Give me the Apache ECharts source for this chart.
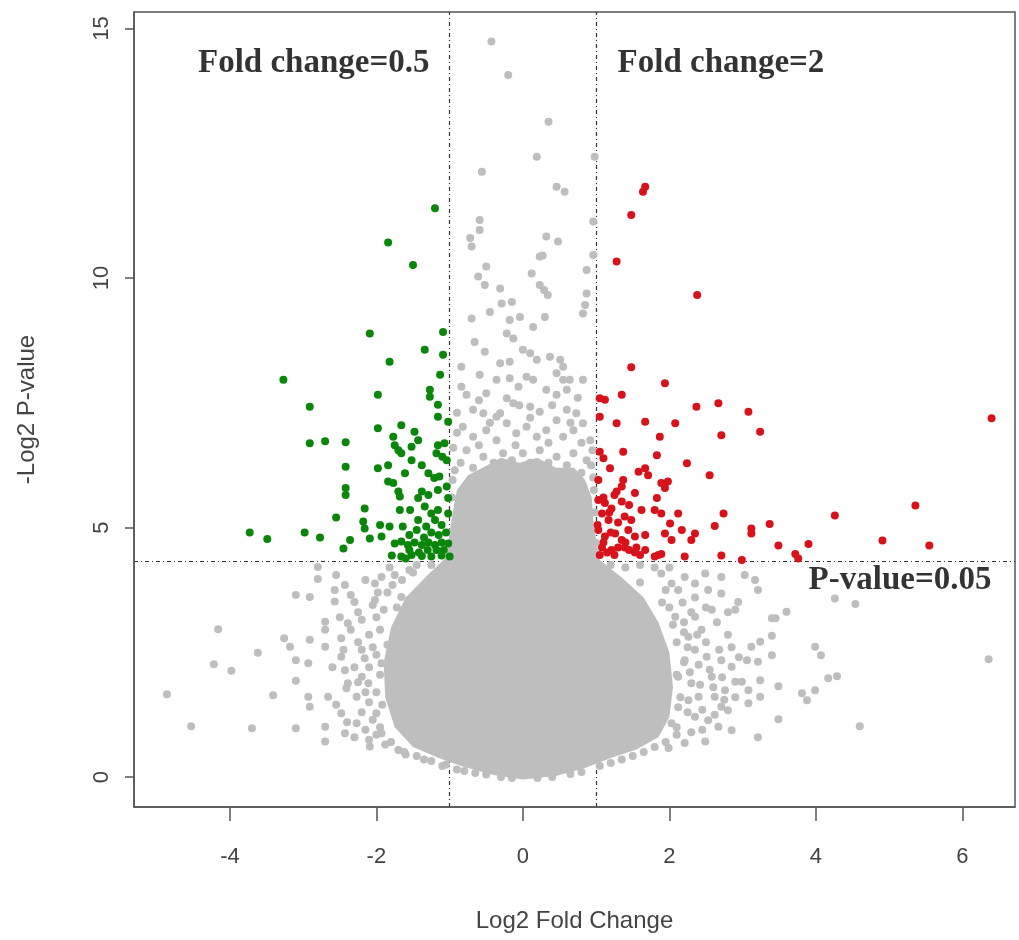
<!DOCTYPE html>
<html>
<head>
<meta charset="utf-8">
<title>Volcano plot</title>
<script src="https://cdn.jsdelivr.net/npm/echarts@6.0.0/dist/echarts.min.js"></script>
<style>
    html, body { margin: 0; padding: 0; background: #fff; }
    #chart { width: 1019px; height: 940px; }
</style>
</head>
<body>
<div id="chart"></div>
<script>
// axis ticks and threshold lines
var xTicks = [-4, -2, 0, 2, 4, 6];
var yTicks = [0, 5, 10, 15];
var foldLines = [-1, 1];
var pLine = 4.32;

// outline of the saturated grey core (log2FC, -log2 p)
var coreOutline = [
    [0.0, -0.05], [0.45, 0.02], [0.85, 0.18], [1.2, 0.38], [1.55, 0.55], [1.85, 0.8], [2.0, 1.2],
    [2.05, 1.8], [2.0, 2.5], [1.85, 3.1], [1.65, 3.6], [1.35, 4.0], [1.05, 4.35], [0.97, 5.0],
    [0.94, 5.6], [0.85, 5.95], [0.7, 6.2], [0.45, 6.2], [0.2, 6.4], [-0.05, 6.3], [-0.3, 6.4],
    [-0.55, 6.2], [-0.75, 6.05], [-0.9, 5.75], [-0.97, 5.2], [-1.05, 4.4], [-1.3, 4.05], [-1.6, 3.6],
    [-1.8, 3.0], [-1.9, 2.3], [-1.88, 1.6], [-1.75, 1.0], [-1.5, 0.6], [-1.15, 0.38], [-0.8, 0.2],
    [-0.4, 0.04]
];

// not significant genes outside the core
var grayPoints = [
    [-4.86, 1.66], [-4.53, 1.02], [-4.16, 2.96], [-4.22, 2.26], [-3.98, 2.13], [-3.62, 2.49], [-3.70, 0.98],
    [-3.41, 1.64], [-3.26, 2.78], [-3.18, 2.61], [-3.10, 3.65], [-2.91, 3.61], [-2.80, 4.21], [-2.80, 3.97],
    [-3.10, 2.34], [-2.93, 2.28], [-2.91, 2.75], [-3.10, 1.93], [-3.10, 0.98], [-2.93, 1.61], [-2.91, 1.41],
    [-2.70, 2.61], [-2.70, 3.11], [-2.70, 2.95], [-2.70, 1.01], [-2.70, 0.71], [-2.66, 1.61], [-2.57, 3.75],
    [-2.57, 3.52], [-2.55, 4.05], [-2.43, 3.85], [-2.48, 2.78], [-2.39, 3.08], [-2.35, 2.95], [-2.48, 2.41],
    [-2.43, 2.14], [-2.39, 1.88], [-2.41, 1.78], [-2.48, 1.28], [-2.43, 0.88], [-2.30, 3.51], [-2.27, 1.61],
    [-2.27, 1.08], [-2.20, 3.15], [-2.16, 2.38], [-2.20, 2.01], [-2.11, 1.88], [-2.09, 0.61], [-2.02, 3.88],
    [-2.02, 3.55], [-2.00, 1.28], [-1.93, 2.28], [-1.93, 0.88], [-1.70, 0.54], [-1.66, 3.61], [-1.93, 4.01],
    [-1.75, 4.05], [-2.05, 2.6], [-2.1, 1.5], [-2.0, 3.2], [-1.95, 1.0], [-1.85, 3.7], [-1.6, 0.45],
    [-1.35, 0.35], [-1.1, 0.22], [-0.8, 0.12], [-1.55, 4.15], [-2.25, 2.7], [-2.15, 0.95], [-1.8, 0.7],
    [-2.6, 2.2], [-2.55, 1.45], [-2.5, 3.2], [-2.45, 2.55], [-2.4, 1.1], [-2.35, 3.65], [-2.3, 2.2],
    [-2.3, 0.8], [-2.25, 1.9], [-2.25, 3.3], [-2.2, 2.55], [-2.2, 1.3], [-2.15, 3.95], [-2.15, 1.7],
    [-2.1, 2.85], [-2.1, 2.2], [-2.1, 0.75], [-2.05, 3.45], [-2.05, 1.15], [-2.0, 2.45], [-2.0, 1.7],
    [-2.0, 0.85], [-1.98, 3.7], [-1.95, 2.05], [-1.95, 2.95], [-1.92, 1.45], [-1.9, 3.35], [-1.88, 0.65],
    [-1.85, 2.65], [-1.82, 4.2], [-1.78, 3.85], [-1.72, 3.4], [-1.65, 3.95], [-1.5, 4.1], [-1.45, 4.25],
    [-1.25, 4.25], [-1.62, 0.5], [-1.45, 0.42], [-1.25, 0.32], [-1.05, 0.25], [-0.9, 0.15], [-0.65, 0.08],
    [-0.5, 0.05],
    [4.26, 3.58], [4.54, 3.47], [6.36, 2.36], [4.60, 1.02], [3.99, 2.61], [4.07, 2.44], [4.17, 1.98],
    [4.29, 2.02], [3.81, 1.68], [3.88, 1.54], [3.99, 1.74], [3.49, 1.82], [3.49, 1.16], [3.21, 0.80],
    [3.60, 3.31], [3.40, 3.18], [3.45, 3.18], [3.40, 2.83], [3.40, 2.44], [3.24, 2.71], [3.12, 2.61],
    [3.21, 2.31], [3.24, 1.94], [3.08, 1.74], [3.24, 1.61], [3.08, 1.48], [3.06, 2.34], [2.90, 3.35],
    [2.94, 3.51], [3.17, 3.95], [3.21, 3.75], [3.03, 4.05], [2.71, 3.68], [2.80, 2.85], [2.71, 2.34],
    [2.85, 2.21], [2.90, 1.91], [2.76, 1.74], [2.99, 1.91], [2.51, 2.41], [2.58, 2.01], [2.62, 1.61],
    [2.71, 1.41], [2.80, 1.34], [2.85, 0.94], [2.49, 0.71], [2.67, 1.01], [2.53, 1.14], [2.35, 1.21],
    [2.21, 0.68], [1.99, 0.58], [2.53, 3.75], [2.58, 3.35], [2.35, 3.88], [2.35, 3.21], [2.44, 2.95],
    [2.26, 2.81], [2.35, 2.55], [2.21, 2.34], [2.30, 1.88], [2.26, 1.54], [2.40, 1.61], [2.12, 3.75],
    [2.21, 4.01], [2.08, 3.21], [2.03, 3.88], [1.89, 4.08], [2.03, 1.08], [2.12, 2.01], [2.71, 4.01],
    [2.49, 4.08], [2.2, 2.9], [2.15, 1.6], [2.1, 1.0], [1.8, 0.6], [1.5, 0.42], [1.2, 0.28], [0.8, 0.1],
    [0.4, 0.0], [-0.3, 0.0], [2.3, 3.3], [1.9, 3.5], [1.6, 3.9], [2.2, 2.3],
    [1.95, 3.75], [2.0, 3.4], [2.05, 3.05], [2.1, 2.7], [2.1, 2.05], [2.12, 1.4], [2.1, 0.85],
    [2.18, 3.5], [2.2, 3.1], [2.25, 2.6], [2.28, 2.1], [2.25, 1.3], [2.3, 0.9], [2.35, 3.6],
    [2.38, 2.85], [2.4, 2.25], [2.42, 1.85], [2.45, 1.35], [2.45, 0.95], [2.5, 3.4], [2.5, 2.7],
    [2.55, 2.15], [2.6, 1.8], [2.62, 1.25], [2.65, 3.1], [2.68, 2.55], [2.72, 2.0], [2.75, 1.55],
    [2.8, 3.3], [2.85, 2.6], [2.9, 1.6], [2.95, 2.4], [2.0, 4.2], [1.8, 4.2], [1.6, 4.25],
    [1.4, 4.2], [1.2, 4.25], [1.95, 0.7], [1.65, 0.5], [1.35, 0.35], [1.05, 0.22], [0.65, 0.06],
    [0.2, -0.02], [-0.15, -0.02],
    [-0.43, 14.74], [-0.20, 14.07], [0.35, 13.13], [0.19, 12.43], [-0.56, 12.13], [0.46, 11.83], [0.57, 11.73],
    [-0.59, 11.16], [-0.59, 10.96], [-0.72, 10.80], [-0.70, 10.63], [0.32, 10.83], [0.48, 10.73], [0.23, 10.43],
    [0.27, 10.45], [-0.50, 10.23], [0.12, 10.09], [0.98, 12.43], [0.96, 11.13], [0.96, 10.46], [0.87, 10.16],
    [-0.61, 10.03], [-0.52, 9.86], [-0.31, 9.79], [0.23, 9.86], [0.29, 9.76], [0.34, 9.66], [-0.29, 9.49],
    [-0.15, 9.52], [-0.45, 9.32], [-0.70, 9.19], [-0.18, 9.16], [-0.04, 9.22], [0.30, 9.22], [0.14, 9.02],
    [0.87, 9.69], [0.85, 9.46], [0.82, 9.29], [-0.66, 8.72], [-0.22, 8.89], [-0.13, 8.79], [-0.52, 8.52],
    [0.0, 8.56], [0.10, 8.49], [0.19, 8.36], [0.37, 8.42], [0.51, 8.36], [0.55, 8.22], [-0.84, 8.22],
    [-0.31, 8.29], [-0.18, 8.32], [-0.59, 8.06], [-0.36, 7.96], [-0.18, 7.99], [-0.06, 7.82], [0.05, 8.02],
    [0.14, 7.96], [0.46, 8.09], [0.55, 7.96], [0.64, 7.96], [-0.84, 7.82], [-0.77, 7.66], [-0.50, 7.69],
    [-0.22, 7.59], [-0.13, 7.49], [0.32, 7.76], [0.46, 7.66], [0.60, 7.76], [0.82, 7.96], [0.10, 7.42],
    [0.23, 7.32], [-0.68, 7.36], [-0.54, 7.29], [-0.36, 7.22], [-0.31, 7.29], [0.60, 7.36], [0.73, 7.29],
    [-0.82, 7.02], [-0.68, 6.82], [-0.50, 6.95], [-0.36, 6.75], [-0.22, 7.09], [-0.09, 6.89], [0.05, 7.02],
    [0.19, 6.82], [0.32, 6.95], [0.46, 7.15], [0.55, 6.82], [0.69, 6.95], [0.82, 7.09], [0.92, 6.75],
    [-0.77, 6.55], [-0.54, 6.42], [-0.27, 6.49], [0.0, 6.49], [0.23, 6.55], [0.46, 6.42], [0.69, 6.49],
    [0.87, 6.35], [-0.95, 6.6], [-0.9, 6.9], [-0.97, 5.6], [-0.99, 4.9], [0.98, 5.3], [0.99, 4.7],
    [0.96, 6.0], [0.95, 6.55], [0.8, 6.7], [-0.6, 6.65], [-0.1, 6.65], [0.35, 6.7], [-0.45, 7.1],
    [0.1, 7.2], [0.65, 7.1], [-0.05, 7.45], [0.4, 7.45], [-0.6, 7.55], [0.75, 7.6], [-0.9, 7.3],
    [-0.93, 6.15], [-0.85, 6.3], [-0.68, 6.2], [-0.4, 6.3], [-0.15, 6.35], [0.1, 6.3], [0.35, 6.3],
    [0.6, 6.25], [0.8, 6.1], [0.93, 6.25], [-0.96, 5.95], [0.97, 5.75]
];

// fold change < 0.5 and p < 0.05
var downPoints = [
    [-1.20, 11.40], [-1.84, 10.71], [-1.50, 10.26], [-2.09, 8.89], [-1.09, 8.92], [-1.34, 8.56], [-1.09, 8.46],
    [-1.82, 8.32], [-1.13, 8.06], [-3.27, 7.96], [-1.98, 7.66], [-1.27, 7.76], [-1.27, 7.62], [-1.16, 7.46],
    [-2.91, 7.42], [-1.16, 7.22], [-1.02, 7.12], [-1.98, 6.99], [-1.66, 7.05], [-1.48, 6.92], [-1.43, 6.75],
    [-1.77, 6.82], [-1.75, 6.65], [-2.91, 6.69], [-2.70, 6.73], [-2.42, 6.71], [-1.66, 6.49], [-1.70, 6.55],
    [-1.52, 6.62], [-1.16, 6.65], [-1.07, 6.69], [-1.18, 6.49], [-1.10, 6.42], [-1.04, 6.35], [-1.52, 6.35],
    [-1.38, 6.25], [-2.42, 6.22], [-1.98, 6.19], [-1.84, 6.25], [-1.61, 6.09], [-1.29, 6.09], [-1.21, 5.99],
    [-1.14, 6.02], [-1.84, 5.92], [-1.77, 5.89], [-2.42, 5.79], [-2.42, 5.65], [-1.70, 5.72], [-1.68, 5.62],
    [-1.38, 5.72], [-1.16, 5.75], [-1.04, 5.82], [-1.43, 5.59], [-1.29, 5.65], [-1.02, 5.59], [-2.16, 5.38],
    [-1.68, 5.35], [-1.54, 5.35], [-1.34, 5.42], [-1.25, 5.28], [-1.16, 5.35], [-1.02, 5.28], [-2.55, 5.20],
    [-2.18, 5.12], [-2.16, 4.98], [-1.95, 5.05], [-1.82, 5.02], [-1.64, 5.02], [-1.43, 5.15], [-1.32, 5.02],
    [-1.20, 5.15], [-1.11, 5.05], [-3.73, 4.90], [-3.49, 4.77], [-2.98, 4.90], [-2.77, 4.80], [-2.36, 4.75],
    [-2.45, 4.58], [-2.09, 4.78], [-1.93, 4.82], [-1.75, 4.68], [-1.66, 4.72], [-1.57, 4.65], [-1.48, 4.70],
    [-1.38, 4.65], [-1.29, 4.70], [-1.20, 4.65], [-1.11, 4.70], [-1.02, 4.68], [-1.79, 4.44], [-1.66, 4.42],
    [-1.52, 4.45], [-1.38, 4.43], [-1.25, 4.42], [-1.11, 4.44], [-1.00, 4.42], [-1.05, 4.90], [-1.15, 4.85],
    [-1.25, 4.90], [-1.35, 4.80], [-1.45, 4.95], [-1.55, 4.85], [-1.08, 4.55], [-1.18, 4.55], [-1.30, 4.55],
    [-1.42, 4.50], [-1.55, 4.55], [-1.60, 4.38]
];

// fold change > 2 and p < 0.05
var upPoints = [
    [1.67, 11.83], [1.64, 11.73], [1.48, 11.26], [1.28, 10.33], [2.38, 9.66], [1.48, 8.21], [1.94, 7.89],
    [1.35, 7.66], [1.05, 7.59], [1.12, 7.56], [2.37, 7.42], [2.67, 7.49], [3.08, 7.32], [6.40, 7.19],
    [1.05, 7.22], [1.28, 7.09], [1.67, 7.12], [2.08, 7.09], [1.87, 6.82], [2.71, 6.85], [3.24, 6.92],
    [1.05, 6.52], [1.10, 6.39], [1.37, 6.52], [1.83, 6.45], [2.24, 6.29], [1.19, 6.19], [1.58, 6.12],
    [1.67, 6.19], [1.71, 6.05], [2.55, 6.05], [1.03, 5.95], [1.37, 5.95], [1.35, 5.82], [1.28, 5.72],
    [1.89, 5.89], [1.98, 5.92], [1.94, 5.79], [1.53, 5.69], [1.83, 5.59], [1.03, 5.55], [1.12, 5.49],
    [1.21, 5.38], [1.35, 5.52], [1.62, 5.35], [1.80, 5.35], [1.89, 5.28], [2.12, 5.28], [2.74, 5.28],
    [4.26, 5.24], [5.36, 5.44], [1.08, 5.28], [1.17, 5.15], [1.39, 5.22], [1.48, 5.15], [2.01, 5.08],
    [2.17, 4.95], [2.62, 5.03], [3.12, 4.98], [3.12, 4.88], [3.37, 5.07], [1.03, 4.95], [1.12, 4.82],
    [1.26, 4.88], [1.35, 4.75], [1.44, 4.95], [1.53, 4.82], [1.67, 4.85], [1.94, 4.88], [2.03, 4.75],
    [2.30, 4.75], [2.35, 4.88], [3.49, 4.64], [3.90, 4.67], [4.91, 4.74], [5.55, 4.64], [1.08, 4.60],
    [1.21, 4.55], [1.39, 4.60], [1.53, 4.50], [1.67, 4.55], [1.80, 4.42], [1.89, 4.47], [2.21, 4.42],
    [2.71, 4.44], [2.99, 4.35], [3.72, 4.47], [3.76, 4.38], [1.85, 4.45], [1.05, 4.45], [1.15, 4.50],
    [1.25, 4.45], [1.30, 4.60], [1.45, 4.55], [1.10, 4.70], [1.20, 4.90], [1.40, 4.70], [1.55, 4.60],
    [1.60, 4.45], [1.30, 5.10], [1.18, 5.30], [1.02, 5.05], [1.10, 5.60], [1.25, 5.65], [1.45, 5.45]
];

// annotations placed in data coordinates
var notes = [
    [-2.855, 14.30, 'Fold change=0.5'],
    [2.705, 14.30, 'Fold change=2'],
    [5.15, 3.94, 'P-value=0.05']
];

var chart = echarts.init(document.getElementById('chart'));

function renderCore(params, api) {
    var pts = coreOutline.map(function (p) {
        return api.coord(p);
    });
    return {
        type: 'polygon',
        shape: { points: pts },
        style: { fill: '#bebebe' }
    };
}

var thresholdLines = foldLines.map(function (v) {
    return { xAxis: v };
});
thresholdLines.push({ yAxis: pLine });

var axisFont = 'Liberation Sans, Arial, sans-serif';

var option = {
    animation: false,
    backgroundColor: '#ffffff',
    grid: {
        left: 134,
        right: 4,
        top: 12,
        bottom: 133,
        show: true,
        borderColor: '#555',
        borderWidth: 1.5,
        backgroundColor: 'transparent'
    },
    xAxis: {
        type: 'value',
        min: -5.31,
        max: 6.72,
        name: 'Log2 Fold Change',
        nameLocation: 'middle',
        nameGap: 102,
        nameTextStyle: { fontFamily: axisFont, fontSize: 24, color: '#444' },
        splitLine: { show: false },
        axisLine: { show: true, onZero: false, lineStyle: { color: '#555', width: 1.5 } },
        axisTick: { show: true, customValues: xTicks, length: 14, lineStyle: { color: '#555', width: 1.5 } },
        axisLabel: { customValues: xTicks, margin: 39, fontFamily: axisFont, fontSize: 22, color: '#444' }
    },
    yAxis: {
        type: 'value',
        min: -0.6,
        max: 15.33,
        name: '-Log2 P-value',
        nameLocation: 'middle',
        nameRotate: 90,
        nameGap: 95,
        nameTextStyle: { fontFamily: axisFont, fontSize: 24, color: '#444' },
        splitLine: { show: false },
        axisLine: { show: true, onZero: false, lineStyle: { color: '#555', width: 1.5 } },
        axisTick: { show: true, customValues: yTicks, length: 9, lineStyle: { color: '#555', width: 1.5 } },
        axisLabel: { customValues: yTicks, rotate: 90, margin: 21, fontFamily: axisFont, fontSize: 22, color: '#444' }
    },
    series: [
        {
            name: 'core',
            type: 'custom',
            z: 2,
            silent: true,
            data: [[0, 0]],
            renderItem: renderCore,
            markLine: {
                z: 0,
                silent: true,
                symbol: 'none',
                label: { show: false },
                lineStyle: { color: '#333', width: 1.2, type: [4, 3, 1, 3] },
                data: thresholdLines
            }
        },
        {
            name: 'gray',
            type: 'scatter',
            z: 3,
            silent: true,
            symbolSize: 8,
            itemStyle: { color: '#bebebe', opacity: 1 },
            data: grayPoints
        },
        {
            name: 'down',
            type: 'scatter',
            z: 4,
            silent: true,
            symbolSize: 8,
            itemStyle: { color: '#0a860a', opacity: 1 },
            data: downPoints
        },
        {
            name: 'up',
            type: 'scatter',
            z: 4,
            silent: true,
            symbolSize: 8,
            itemStyle: { color: '#d8121a', opacity: 1 },
            data: upPoints
        },
        {
            name: 'notes',
            type: 'scatter',
            z: 6,
            silent: true,
            symbolSize: 0,
            data: notes,
            label: {
                show: true,
                position: 'inside',
                formatter: function (p) {
                    return p.value[2];
                },
                fontFamily: 'Liberation Serif, Times New Roman, serif',
                fontWeight: 'bold',
                fontSize: 33,
                color: '#000'
            }
        }
    ]
};

chart.setOption(option);
</script>
</body>
</html>
